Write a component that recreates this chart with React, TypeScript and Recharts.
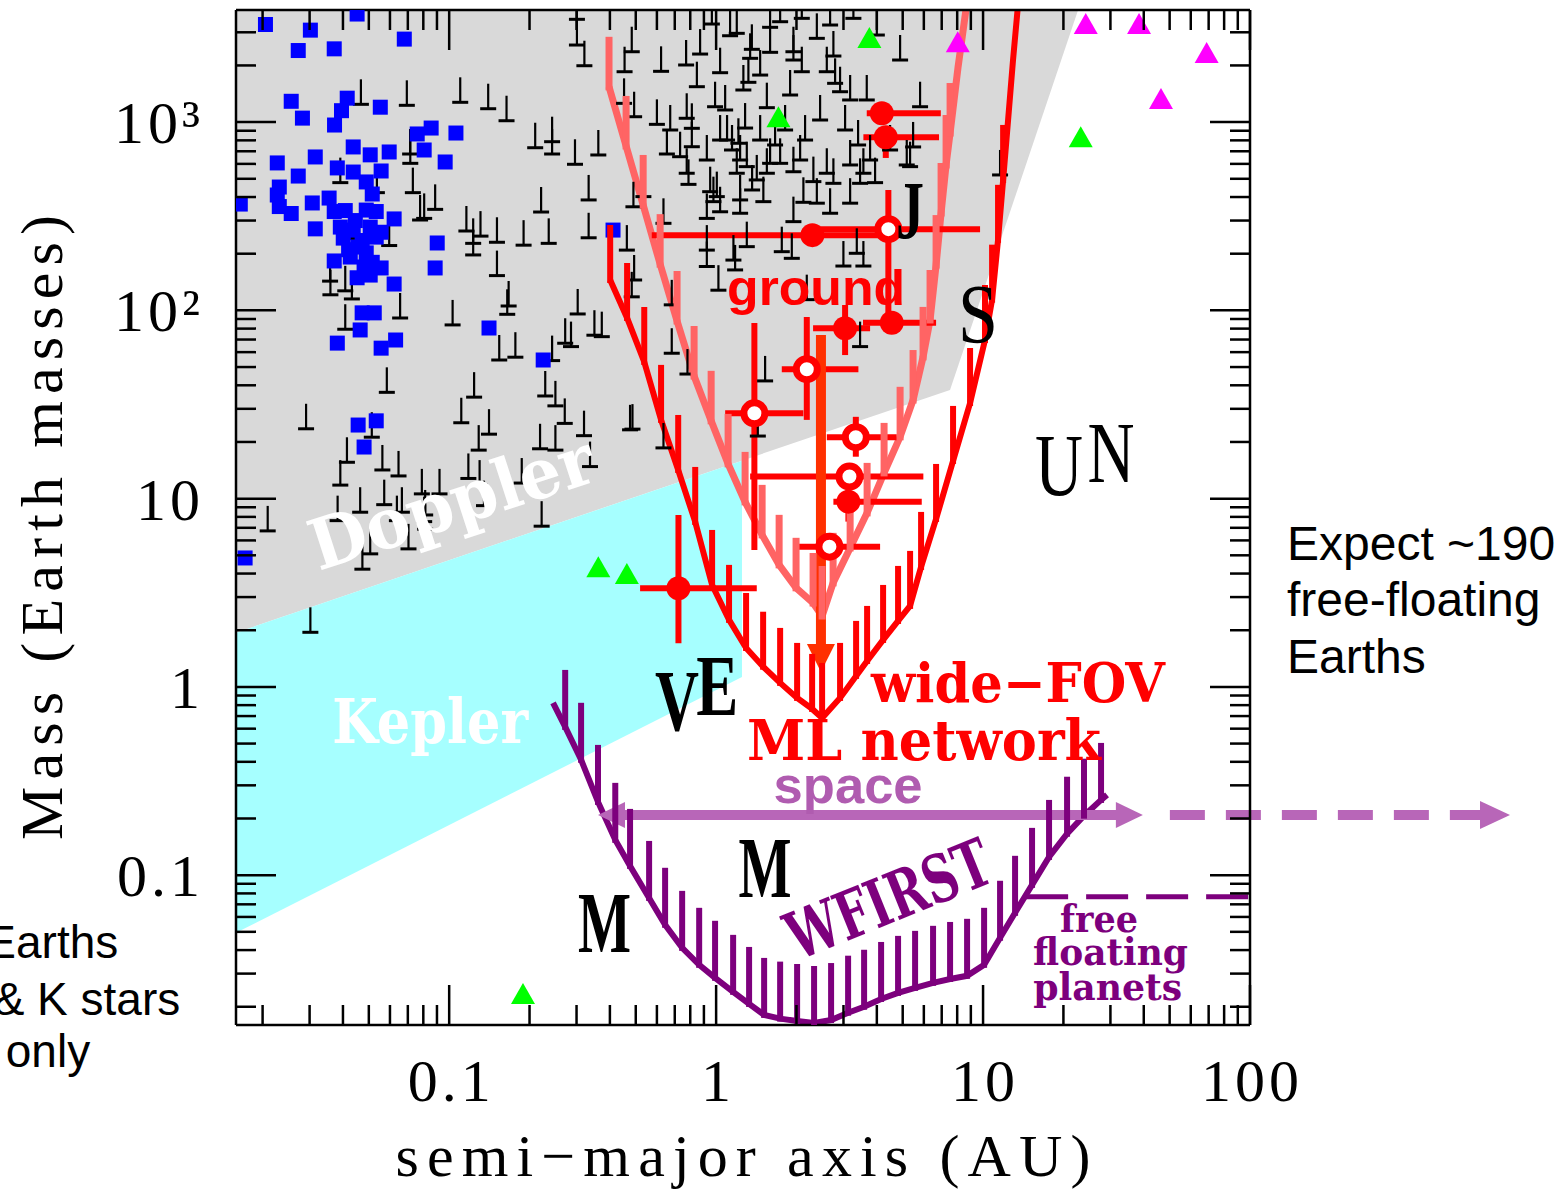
import React from "react";
import {
  ComposedChart,
  XAxis,
  YAxis,
  Area,
  Line,
  Scatter,
  ErrorBar,
  ReferenceLine,
  ReferenceDot,
} from "recharts";

// layout of the frame
const W = 1556;
const H = 1189;
const TOP_H = 10;
const LEFT_W = 236;
const RIGHT_W = 306;
const BOTTOM_H = 164;
const PLOT_L = LEFT_W;
const PLOT_R = W - RIGHT_W;
const PLOT_T = TOP_H;
const PLOT_B = H - BOTTOM_H;

const X_DOMAIN: [number, number] = [0.0159, 100];
const Y_DOMAIN: [number, number] = [0.016, 3940];

const X_LABEL_VALUES = [0.1, 1, 10, 100];
const X_LABELS = ["0.1", "1", "10", "100"];
const Y_LABEL_VALUES = [0.1, 1, 10, 100, 1000];
const Y_LABELS = ["0.1", "1", "10", "10²", "10³"];

// shaded regions: [a, lower mass, upper mass]
const DOPPLER_REGION = [
  [0.0159, 1.94, 3940],
  [7.52, 37.8, 3940],
  [22.7, 3940, 3940],
];
const KEPLER_REGION = [
  [0.0159, 0.0494, 1.94],
  [1.25, 1.13, 15.9],
];

// Doppler lower limits (m sin i): [a, m]
const LIMITS = [
  [0.0694, 1228], [0.110, 1274], [0.140, 1178], [0.164, 1017], [0.0467, 1243], [0.210, 731], [0.243, 787], [0.243, 677], [0.296, 597], [0.362, 669],
  [0.301, 3516], [0.301, 2567], [0.321, 1993], [0.454, 1852], [0.483, 2365], [0.452, 1258], [0.493, 1068], [0.0714, 677], [0.0715, 604], [0.0391, 477],
  [0.0731, 422], [0.0778, 302], [0.0806, 308], [0.0886, 344], [0.0536, 422], [0.0596, 221], [0.116, 264], [0.123, 227], [0.131, 248], [0.151, 230],
  [0.190, 222], [0.236, 227], [0.221, 333], [0.333, 386], [0.333, 243], [0.151, 153], [0.167, 105.5], [0.165, 95.3], [0.303, 95.7], [0.0358, 143],
  [0.0359, 121], [0.0408, 127], [0.0432, 115], [0.0426, 241], [0.463, 209], [0.490, 355], [0.534, 402], [0.493, 145], [0.123, 197], [0.0655, 91.1],
  [0.0408, 79.4], [0.103, 83.7], [0.350, 73.8], [0.154, 54.5], [0.177, 56.4], [0.272, 66.9], [0.286, 64.2], [0.243, 54.1], [0.0584, 36.7], [0.124, 34.6],
  [0.0291, 23.5], [0.0513, 21.2], [0.111, 25.3], [0.141, 22.0], [0.229, 35.1], [0.250, 31.1], [0.271, 25.1], [0.320, 21.6], [0.476, 23.2], [0.0414, 15.6],
  [0.0391, 11.8], [0.0562, 14.2], [0.0646, 13.2], [0.129, 18.1], [0.219, 18.4], [0.250, 18.1], [0.337, 14.8], [0.118, 12.8], [0.130, 11.8], [0.187, 12.1],
  [0.0790, 10.6], [0.0920, 10.6], [0.0571, 9.29], [0.0209, 6.74], [0.0382, 7.64], [0.0464, 8.47], [0.0637, 7.64], [0.0665, 8.47], [0.0813, 8.19], [0.0806, 7.55],
  [0.0813, 6.88], [0.135, 9.18], [0.222, 7.14], [0.0506, 5.09], [0.0704, 5.41], [0.0473, 4.22], [0.0302, 1.95],
  [0.622, 1861], [0.600, 973], [0.673, 908], [0.772, 2011], [0.847, 1542], [0.776, 1048], [0.811, 927], [0.811, 740], [0.871, 2299], [0.964, 3319],
  [1.035, 1830], [0.991, 1207], [1.128, 2876], [1.195, 2962], [1.361, 2436], [1.341, 2182], [1.321, 1627], [1.265, 1481], [1.549, 1193], [1.593, 2348],
  [1.593, 3188], [1.737, 3414], [2.094, 3558], [1.948, 2365], [1.948, 2137], [2.094, 1852], [2.384, 2786], [2.673, 3279], [2.750, 2244], [2.598, 1852],
  [2.791, 1607], [3.268, 3558], [4.00, 2901], [2.913, 1450], [3.177, 1311], [3.667, 1311], [5.808, 1207], [0.733, 655], [0.776, 535], [0.788, 467],
  [0.654, 677], [0.923, 629], [1.035, 803], [1.212, 772], [1.230, 629], [1.303, 580], [1.195, 535], [1.420, 493], [1.549, 535], [1.593, 604],
  [1.737, 604], [1.948, 545], [2.064, 629], [2.314, 483], [2.598, 535], [2.750, 473], [3.177, 592], [3.562, 535], [3.774, 629], [3.462, 473],
  [3.940, 477], [5.178, 592], [5.329, 580], [5.47, 738], [0.950, 427], [1.006, 402], [0.977, 378], [1.035, 334], [1.230, 328], [1.230, 386], [1.503, 378],
  [2.123, 375], [2.384, 371], [2.673, 328], [3.177, 371], [1.948, 296], [0.923, 308], [0.923, 209], [0.923, 171], [1.020, 128], [1.161, 185],
  [1.178, 164], [1.303, 218], [1.762, 205], [1.921, 189], [2.998, 172], [3.365, 201], [3.562, 172], [0.635, 290], [0.483, 118], [0.682, 107],
  [11.58, 524], [2.186, 114], [0.682, 59.2], [0.781, 45.9], [0.486, 23.4], [0.635, 18.6], [1.526, 42.2], [1.433, 21.5], [3.462, 64.2], [0.373, 72.5],
  [1.099, 803], [1.147, 711], [1.284, 930], [1.364, 436], [1.462, 803], [1.663, 756], [1.813, 908], [2.154, 803], [2.452, 1026], [3.042, 908],
  [3.403, 756], [4.484, 711], [1.081, 1160], [1.893, 1393], [1.462, 1778], [4.889, 2137],
];

// transiting planets (blue squares): [a, m]
const TRANSITS = [
  [0.0205, 3300], [0.0302, 3080], [0.0452, 3750], [0.0272, 2400], [0.0371, 2450], [0.0679, 2760], [0.0256, 1290], [0.0415, 1340], [0.0395, 1150], [0.0282, 1050],
  [0.0372, 965], [0.0552, 1200], [0.0856, 930], [0.0759, 865], [0.106, 875], [0.0437, 738], [0.0506, 670], [0.0596, 694], [0.0806, 711], [0.0966, 614],
  [0.0227, 607], [0.0315, 653], [0.0381, 571], [0.0437, 543], [0.0556, 550], [0.0272, 517], [0.0231, 452], [0.0227, 410], [0.0489, 481], [0.0515, 415],
  [0.0165, 367], [0.0355, 395], [0.0307, 372], [0.0231, 356], [0.0256, 327], [0.0371, 335], [0.0408, 339], [0.0489, 341], [0.0533, 335], [0.0622, 306],
  [0.0315, 271], [0.0391, 277], [0.0437, 267], [0.0506, 277], [0.0533, 245], [0.0401, 242], [0.0902, 228], [0.411, 267], [0.0456, 217], [0.0489, 202],
  [0.0371, 183], [0.0426, 192], [0.0480, 170], [0.0556, 168], [0.0886, 168], [0.0452, 149], [0.0506, 154], [0.0622, 138], [0.0472, 97], [0.0524, 97],
  [0.0464, 78.7], [0.0381, 67], [0.0630, 69.6], [0.0556, 63], [0.141, 80.6], [0.225, 54.5], [0.0456, 24.6], [0.0533, 25.9], [0.0480, 18.8], [0.0172, 4.84],
  [0.0445, 300], [0.0472, 235], [0.0420, 210], [0.0515, 180], [0.0556, 260],
];

const GREEN_TRI = [[3.751, 2763], [1.712, 1048], [23.22, 820], [0.362, 4.27], [0.463, 3.93], [0.189, 0.0231]];
const MAGENTA_TRI = [[8.04, 2621], [24.25, 3279], [38.4, 3279], [68.8, 2299], [46.4, 1311]];

// microlensing detections: [a, m, aLow, aHigh, mLow, mHigh]
const ML_FILLED = [
  [4.175, 1113, 3.667, 6.945, 1113, 1113],
  [4.321, 830, 3.562, 6.84, 645, 900],
  [2.294, 251, 0.574, 4.4, 251, 251],
  [3.042, 80.4, 2.308, 3.774, 57.9, 106.8],
  [4.55, 86.0, 3.55, 6.668, 86.0, 86.0],
  [3.13, 9.64, 2.75, 5.893, 7.55, 11.1],
  [0.7226, 3.343, 0.519, 1.42, 1.706, 8.19],
];
const ML_OPEN = [
  [4.418, 270, 2.452, 9.745, 88.9, 436],
  [2.186, 48.7, 1.762, 3.412, 26.2, 92.2],
  [1.391, 28.4, 1.081, 2.123, 5.34, 85.7],
  [3.337, 21.2, 2.598, 4.752, 16.7, 27.2],
  [3.158, 13.1, 1.341, 5.975, 13.1, 13.1],
  [2.657, 5.56, 2.033, 4.114, 5.56, 5.56],
];

// sensitivity curves: [a, m]
const GROUND_OUTER = [
  [0.401, 145], [0.464, 91.1], [0.538, 53.2], [0.622, 26.2], [0.721, 14.2], [0.835, 7.52], [0.966, 3.48], [1.118, 2.27], [1.295, 1.61], [1.500, 1.28],
  [1.737, 1.05], [2.011, 0.874], [2.289, 0.764], [2.495, 0.684], [2.913, 0.874], [3.345, 1.144], [3.678, 1.374], [4.222, 1.776], [4.804, 2.241], [5.329, 2.693],
  [5.859, 4.338], [6.668, 7.80], [7.720, 15.86], [8.940, 32.2], [10.17, 69.6], [10.81, 114], [11.38, 237], [11.89, 493], [12.41, 1026], [12.95, 2137], [13.52, 4200],
];
const GROUND_INNER = [
  [0.397, 1540], [0.460, 747], [0.533, 363], [0.617, 176], [0.714, 87.8], [0.827, 44.8], [0.958, 25.9], [1.109, 15.3], [1.284, 9.61], [1.487, 6.42],
  [1.722, 4.45], [1.993, 3.36], [2.308, 2.79], [2.495, 2.38], [2.743, 3.57], [3.177, 5.47], [3.678, 8.40], [4.258, 13.7], [4.889, 21.3], [5.468, 33.4],
  [5.960, 56.6], [6.331, 88.9], [6.668, 174], [6.962, 329], [7.269, 592], [7.524, 875], [7.788, 1311], [8.061, 1962], [8.638, 4000],
];
const WFIRST = [
  [0.245, 0.822], [0.272, 0.613], [0.312, 0.410], [0.361, 0.245], [0.419, 0.154], [0.476, 0.112], [0.561, 0.0757], [0.644, 0.0545], [0.746, 0.0411], [0.864, 0.0334],
  [0.991, 0.0285], [1.158, 0.0240], [1.329, 0.0207], [1.513, 0.0181], [1.737, 0.0173], [2.011, 0.0168], [2.328, 0.0164], [2.696, 0.0170], [3.122, 0.0186], [3.584, 0.0200],
  [4.150, 0.0220], [4.804, 0.0237], [5.564, 0.0252], [6.497, 0.0268], [7.524, 0.0281], [8.713, 0.0292], [10.09, 0.0334], [11.58, 0.0465], [13.18, 0.0631], [15.26, 0.0888],
  [17.67, 0.125], [20.64, 0.166], [23.89, 0.207], [27.67, 0.251], [29.14, 0.267],
];

// arrows and limits: [a, m] endpoints
const GROUND_ARROW = [[2.47, 74], [2.47, 1.2]];
const SPACE_ARROW = [[0.361, 0.209], [39.7, 0.209]];
const SPACE_ARROW_EXT = [[50.1, 0.209], [942, 0.209]];
const FREE_FLOAT_LIMIT = [[14.5, 0.0767], [100, 0.0767]];

const RED = "#ff0000";
const PINK = "#ff6464";
const PURPLE = "#7d007d";
const LAVENDER = "#b866b8";
const SERIF = "'Liberation Serif', 'Times New Roman', serif";
const SLAB = "'DejaVu Serif', serif";
const SANS = "'Liberation Sans', Arial, sans-serif";

const pts = (rows: number[][]) => rows.map(([a, m]) => ({ a, m }));
const band = (rows: number[][]) => rows.map(([a, lo, hi]) => ({ a, band: [lo, hi] }));
const errPts = (rows: number[][]) =>
  rows.map(([a, m, aLo, aHi, mLo, mHi]) => ({ a, m, aLo, aHi, mLo, mHi }));
const seg = (rows: number[][]) => rows.map(([a, m]) => ({ x: a, y: m }));

function logTicks([lo, hi]: [number, number]) {
  const out: number[] = [];
  for (let e = -2; e <= 3; e++) {
    for (let k = 1; k <= 9; k++) {
      const v = Number((k * Math.pow(10, e)).toPrecision(3));
      if (v >= lo && v <= hi) out.push(v);
    }
  }
  return out;
}
const X_TICKS = logTicks(X_DOMAIN);
const Y_TICKS = logTicks(Y_DOMAIN);

const FRAME = { stroke: "#000", strokeWidth: 2.5 };
const TICK_FONT: React.CSSProperties = { fontFamily: SERIF, fontSize: 60, fill: "#000", letterSpacing: 4 };
const near = (v: number, t: number) => Math.abs(v - t) < 1e-6 * t;
const isDecade = (v: number) => Math.abs(Math.log10(v) - Math.round(Math.log10(v))) < 1e-6;
const tickLen = (v: number) => (isDecade(v) ? 40 : 20);
const coordOf = (p: any, fb: number) =>
  p.payload && typeof p.payload.coordinate === "number" ? p.payload.coordinate : fb;

const BottomTick = (p: any) => {
  const v = p.payload.value;
  const x = coordOf(p, p.x);
  const i = X_LABEL_VALUES.findIndex((t) => near(v, t));
  return (
    <g>
      <line x1={x} x2={x} y1={PLOT_B} y2={PLOT_B - tickLen(v)} {...FRAME} />
      {i >= 0 && (
        <text x={x + 2} y={PLOT_B + 76} textAnchor="middle" style={TICK_FONT}>
          {X_LABELS[i]}
        </text>
      )}
    </g>
  );
};
const TopTick = (p: any) => {
  const v = p.payload.value;
  const x = coordOf(p, p.x);
  return <line x1={x} x2={x} y1={PLOT_T} y2={PLOT_T + tickLen(v)} {...FRAME} />;
};
const LeftTick = (p: any) => {
  const v = p.payload.value;
  const y = coordOf(p, p.y);
  const i = Y_LABEL_VALUES.findIndex((t) => near(v, t));
  return (
    <g>
      <line x1={PLOT_L} x2={PLOT_L + tickLen(v)} y1={y} y2={y} {...FRAME} />
      {i >= 0 && (
        <text x={204} y={y + 21} textAnchor="end" style={TICK_FONT}>
          {Y_LABELS[i]}
        </text>
      )}
    </g>
  );
};
const RightTick = (p: any) => {
  const v = p.payload.value;
  const y = coordOf(p, p.y);
  return <line x1={PLOT_R} x2={PLOT_R - tickLen(v)} y1={y} y2={y} {...FRAME} />;
};

const XTitle = () => (
  <text
    x={(PLOT_L + PLOT_R) / 2}
    y={PLOT_B + 151}
    textAnchor="middle"
    textLength={695}
    lengthAdjust="spacing"
    style={{ fontFamily: SERIF, fontSize: 60, fill: "#000" }}
  >
    semi−major axis (AU)
  </text>
);
const YTitle = () => {
  const cx = 62;
  const cy = (PLOT_T + PLOT_B) / 2 + 10;
  return (
    <text
      x={cx}
      y={cy}
      transform={`rotate(-90 ${cx} ${cy})`}
      textAnchor="middle"
      textLength={625}
      lengthAdjust="spacing"
      style={{ fontFamily: SERIF, fontSize: 60, fill: "#000" }}
    >
      Mass (Earth masses)
    </text>
  );
};

// marker shapes
const LimitMark = (p: any) => (
  <g>
    <line x1={p.cx} x2={p.cx} y1={p.cy} y2={p.cy - 25} stroke="#000" strokeWidth={2.2} />
    <line x1={p.cx - 8} x2={p.cx + 8} y1={p.cy} y2={p.cy} stroke="#000" strokeWidth={3} />
  </g>
);
const Square = (p: any) => <rect x={p.cx - 7.5} y={p.cy - 7.5} width={15} height={15} fill="#0000ff" />;
const triangle = (fill: string) => (p: any) => (
  <polygon points={`${p.cx},${p.cy - 12} ${p.cx + 12},${p.cy + 9} ${p.cx - 12},${p.cy + 9}`} fill={fill} />
);
const FilledDot = (p: any) => <circle cx={p.cx} cy={p.cy} r={12} fill={RED} />;
const OpenDot = (p: any) => <circle cx={p.cx} cy={p.cy} r={10.5} fill="#fff" stroke={RED} strokeWidth={7} />;
const hatch = (color: string, width: number, len: number) => (p: any) => (
  <line x1={p.cx} x2={p.cx} y1={p.cy + width / 2} y2={p.cy - len} stroke={color} strokeWidth={width} />
);

const head = (x: number, y: number, dx: number, dy: number, len: number, half: number, fill: string) => {
  const bx = x - dx * len;
  const by = y - dy * len;
  return (
    <polygon
      points={`${x},${y} ${bx - dy * half},${by + dx * half} ${bx + dy * half},${by - dx * half}`}
      fill={fill}
    />
  );
};
const arrow = (color: string, width: number, len: number, half: number, both: boolean, dash?: string) => (p: any) => {
  const { x1, y1, x2, y2 } = p;
  const L = Math.hypot(x2 - x1, y2 - y1) || 1;
  const dx = (x2 - x1) / L;
  const dy = (y2 - y1) / L;
  const sx = both ? x1 + dx * len * 0.8 : x1;
  const sy = both ? y1 + dy * len * 0.8 : y1;
  return (
    <g>
      <line
        x1={sx}
        y1={sy}
        x2={x2 - dx * len * 0.8}
        y2={y2 - dy * len * 0.8}
        stroke={color}
        strokeWidth={width}
        strokeDasharray={dash}
      />
      {head(x2, y2, dx, dy, len, half, color)}
      {both && head(x1, y1, -dx, -dy, len, half, color)}
    </g>
  );
};

const note = (s: string, style: React.CSSProperties, opts: { anchor?: string; rotate?: number; length?: number } = {}) =>
  (p: any) => (
    <text
      x={p.cx}
      y={p.cy}
      textAnchor={opts.anchor || "middle"}
      transform={opts.rotate ? `rotate(${opts.rotate} ${p.cx} ${p.cy})` : undefined}
      textLength={opts.length}
      lengthAdjust={opts.length ? "spacingAndGlyphs" : undefined}
      style={style}
    >
      {s}
    </text>
  );

const letter = (size: number, bold: boolean): React.CSSProperties => ({
  fontFamily: SERIF,
  fontSize: size,
  fontWeight: bold ? 700 : 400,
  fill: "#000",
});
const slab = (size: number, fill: string): React.CSSProperties => ({
  fontFamily: SLAB,
  fontSize: size,
  fontWeight: 700,
  fill,
});
const sans = (size: number, fill: string, bold = false): React.CSSProperties => ({
  fontFamily: SANS,
  fontSize: size,
  fontWeight: bold ? 700 : 400,
  fill,
});

export default function App() {
  const ax = { type: "number" as const, scale: "log" as const, allowDataOverflow: true, interval: 0, tickLine: false, axisLine: FRAME };
  return (
    <div style={{ position: "absolute", left: 0, top: 0, background: "#fff" }}>
      <ComposedChart width={W} height={H} margin={{ top: 0, right: 0, bottom: 0, left: 0 }}>
        <XAxis {...ax} dataKey="a" domain={X_DOMAIN} ticks={X_TICKS} height={BOTTOM_H} tick={BottomTick} label={{ content: XTitle }} />
        <XAxis {...ax} xAxisId="top" orientation="top" dataKey="a" domain={X_DOMAIN} ticks={X_TICKS} height={TOP_H} tick={TopTick} />
        <YAxis {...ax} dataKey="m" domain={Y_DOMAIN} ticks={Y_TICKS} width={LEFT_W} tick={LeftTick} label={{ content: YTitle }} />
        <YAxis {...ax} yAxisId="right" orientation="right" dataKey="m" domain={Y_DOMAIN} ticks={Y_TICKS} width={RIGHT_W} tick={RightTick} />

        <Area data={band(DOPPLER_REGION)} dataKey="band" type="linear" fill="#d9d9d9" fillOpacity={1} stroke="none" isAnimationActive={false} />
        <Area data={band(KEPLER_REGION)} dataKey="band" type="linear" fill="#a6ffff" fillOpacity={1} stroke="none" isAnimationActive={false} />

        <Scatter data={pts(LIMITS)} shape={LimitMark} isAnimationActive={false} />
        <Scatter data={pts(TRANSITS)} shape={Square} isAnimationActive={false} />
        <Scatter data={pts(GREEN_TRI)} shape={triangle("#00ff00")} isAnimationActive={false} />
        <Scatter data={pts(MAGENTA_TRI)} shape={triangle("#ff00ff")} isAnimationActive={false} />

        <Line data={pts(GROUND_INNER)} dataKey="m" type="linear" stroke={PINK} strokeWidth={7} dot={false} activeDot={false} isAnimationActive={false} />
        <Scatter data={pts(GROUND_INNER.slice(0, -3))} shape={hatch(PINK, 7, 50)} isAnimationActive={false} />
        <Line data={pts(GROUND_OUTER)} dataKey="m" type="linear" stroke={RED} strokeWidth={6} dot={false} activeDot={false} isAnimationActive={false} />
        <Scatter data={pts(GROUND_OUTER.slice(0, -3))} shape={hatch(RED, 6, 55)} isAnimationActive={false} />

        <Scatter data={errPts(ML_FILLED)} shape={FilledDot} isAnimationActive={false}>
          <ErrorBar direction="x" dataKey={(d: any) => [d.a - d.aLo, d.aHi - d.a]} width={0} stroke={RED} strokeWidth={6} />
          <ErrorBar direction="y" dataKey={(d: any) => [d.m - d.mLo, d.mHi - d.m]} width={0} stroke={RED} strokeWidth={6} />
        </Scatter>
        <Scatter data={errPts(ML_OPEN)} shape={OpenDot} isAnimationActive={false}>
          <ErrorBar direction="x" dataKey={(d: any) => [d.a - d.aLo, d.aHi - d.a]} width={0} stroke={RED} strokeWidth={6} />
          <ErrorBar direction="y" dataKey={(d: any) => [d.m - d.mLo, d.mHi - d.m]} width={0} stroke={RED} strokeWidth={6} />
        </Scatter>

        <ReferenceLine segment={seg(GROUND_ARROW)} shape={arrow("#ff3000", 10, 28, 14, false)} />

        <Line data={pts(WFIRST)} dataKey="m" type="linear" stroke={PURPLE} strokeWidth={6} dot={false} activeDot={false} isAnimationActive={false} />
        <Scatter data={pts(WFIRST.slice(1, -1))} shape={hatch(PURPLE, 6, 57)} isAnimationActive={false} />
        <ReferenceLine segment={seg(FREE_FLOAT_LIMIT)} stroke={PURPLE} strokeWidth={5} strokeDasharray="42 18" />

        <ReferenceLine segment={seg(SPACE_ARROW)} shape={arrow(LAVENDER, 10, 27, 13, true)} />
        <ReferenceLine segment={seg(SPACE_ARROW_EXT)} ifOverflow="visible" shape={arrow(LAVENDER, 10, 30, 14, false, "35 21")} />

        {/* region and mission labels */}
        <ReferenceDot x={0.109} y={7.2} ifOverflow="visible" shape={note("Doppler", slab(70, "#fff"), { rotate: -18, length: 295 })} />
        <ReferenceDot x={0.0849} y={0.504} ifOverflow="visible" shape={note("Kepler", slab(62, "#fff"), { length: 196 })} />
        <ReferenceDot x={2.369} y={106.8} ifOverflow="visible" shape={note("ground", sans(50, RED, true), { length: 178 })} />
        <ReferenceDot x={13.52} y={0.832} ifOverflow="visible" shape={note("wide−FOV", slab(54, RED), { length: 294 })} />
        <ReferenceDot x={6.012} y={0.4096} ifOverflow="visible" shape={note("ML network", slab(56, RED), { length: 354 })} />
        <ReferenceDot x={3.122} y={0.2421} ifOverflow="visible" shape={note("space", sans(52, "#b05cb0", true), { length: 149 })} />
        <ReferenceDot x={4.763} y={0.0572} ifOverflow="visible" shape={note("WFIRST", slab(66, PURPLE), { rotate: -22, length: 215 })} />
        <ReferenceDot x={27.2} y={0.05} ifOverflow="visible" shape={note("free", slab(38, PURPLE), { length: 78 })} />
        <ReferenceDot x={30.03} y={0.0334} ifOverflow="visible" shape={note("floating", slab(38, PURPLE), { length: 155 })} />
        <ReferenceDot x={29.3} y={0.0218} ifOverflow="visible" shape={note("planets", slab(38, PURPLE), { length: 149 })} />

        {/* solar-system planets */}
        <ReferenceDot x={5.33} y={242} ifOverflow="visible" shape={note("J", letter(82, true), { length: 28 })} />
        <ReferenceDot x={9.58} y={67.1} ifOverflow="visible" shape={note("S", letter(84, false), { length: 40 })} />
        <ReferenceDot x={19.26} y={10.46} ifOverflow="visible" shape={note("U", letter(88, false), { length: 48 })} />
        <ReferenceDot x={30.16} y={12.27} ifOverflow="visible" shape={note("N", letter(86, false), { length: 47 })} />
        <ReferenceDot x={0.714} y={0.591} ifOverflow="visible" shape={note("V", letter(86, true), { length: 44 })} />
        <ReferenceDot x={1.009} y={0.71} ifOverflow="visible" shape={note("E", letter(86, true), { length: 42 })} />
        <ReferenceDot x={1.526} y={0.0767} ifOverflow="visible" shape={note("M", letter(86, true), { length: 53 })} />
        <ReferenceDot x={0.382} y={0.0392} ifOverflow="visible" shape={note("M", letter(86, true), { length: 53 })} />

        {/* side notes */}
        <ReferenceDot x={137.6} y={4.727} ifOverflow="visible" shape={note("Expect ~190", sans(48, "#000"), { anchor: "start" })} />
        <ReferenceDot x={137.6} y={2.383} ifOverflow="visible" shape={note("free-floating", sans(48, "#000"), { anchor: "start" })} />
        <ReferenceDot x={137.6} y={1.187} ifOverflow="visible" shape={note("Earths", sans(48, "#000"), { anchor: "start" })} />
        <ReferenceDot x={0.00576} y={0.0364} ifOverflow="visible" shape={note("Earths", sans(46, "#000"), { anchor: "end" })} />
        <ReferenceDot x={0.00983} y={0.0181} ifOverflow="visible" shape={note("& K stars", sans(46, "#000"), { anchor: "end" })} />
        <ReferenceDot x={0.00452} y={0.0096} ifOverflow="visible" shape={note("only", sans(46, "#000"), { anchor: "end" })} />
      </ComposedChart>
    </div>
  );
}
